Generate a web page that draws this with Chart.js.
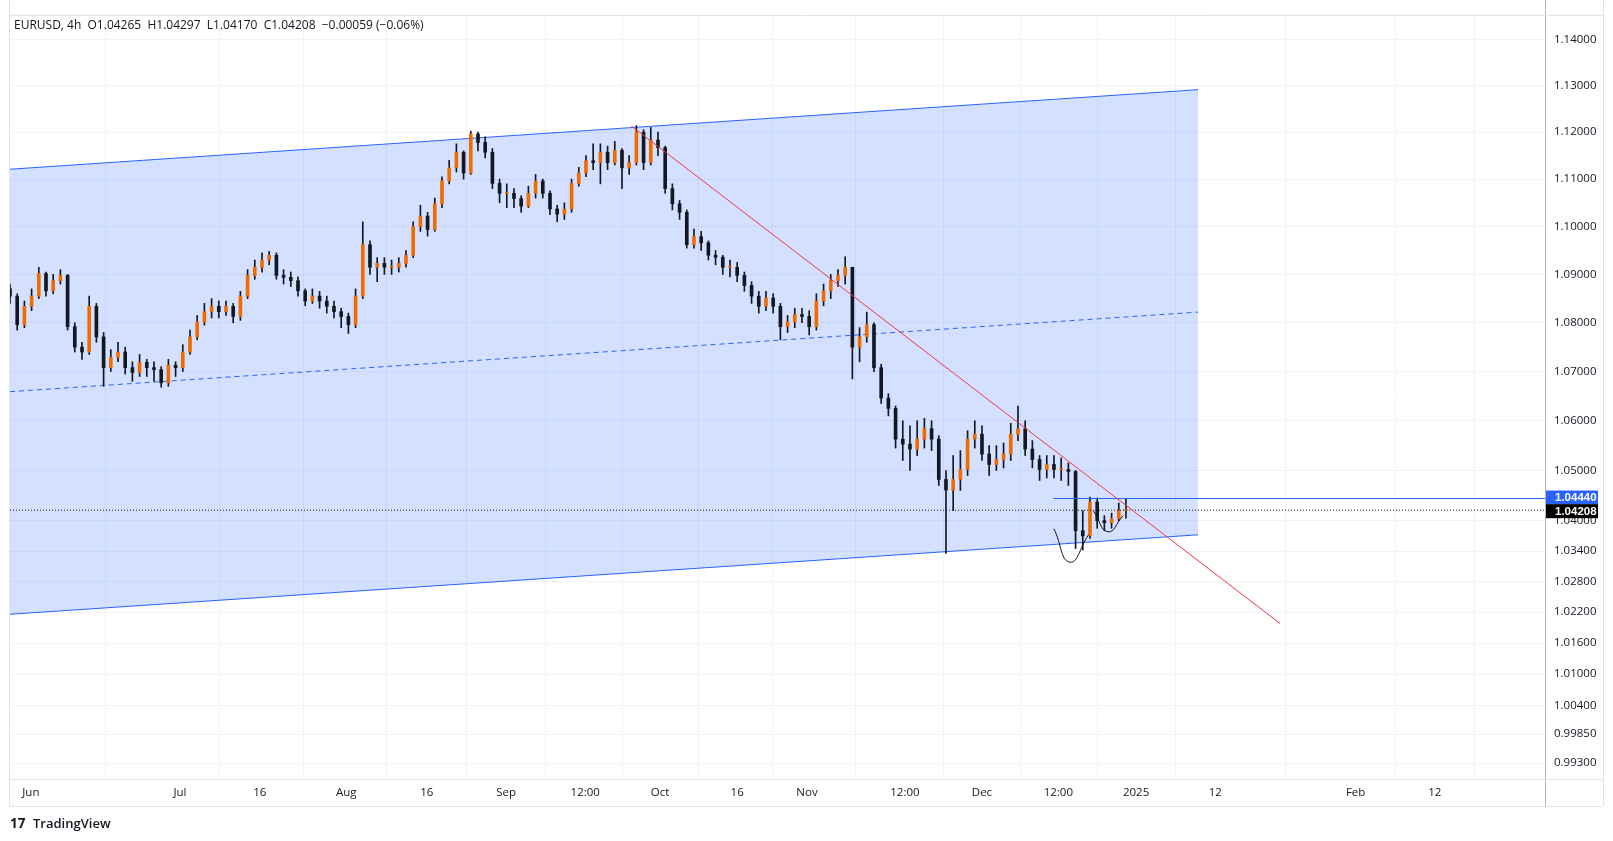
<!DOCTYPE html>
<html><head><meta charset="utf-8">
<script src="https://cdn.jsdelivr.net/npm/chart.js@4"></script>
<style>html,body{margin:0;padding:0;background:#fff;overflow:hidden;width:1613px;height:841px}#wrap{width:1613px;height:841px}canvas{display:block}</style>
</head><body><div id="wrap"><canvas id="c" width="1613" height="841" style="width:1613px;height:841px"></canvas></div>
<script>
// Daily candles (index 0 = first visible bar)
const closes = [1.0855,1.0796,1.0834,1.0855,1.0902,1.0866,1.0887,1.0898,1.0792,1.0750,
1.0740,1.0834,1.0771,1.0708,1.0729,1.0740,1.0708,1.0698,1.0719,1.0708,
1.0704,1.0677,1.0713,1.0708,1.0740,1.0771,1.0802,1.0823,1.0834,1.0823,
1.0834,1.0813,1.0855,1.0898,1.0915,1.0930,1.0940,1.0898,1.0894,1.0887,
1.0866,1.0845,1.0855,1.0845,1.0834,1.0823,1.0813,1.0796,1.0855,1.0962,
1.0915,1.0923,1.0915,1.0915,1.0923,1.0940,1.1000,1.1022,1.0994,1.1048,
1.1096,1.1124,1.1157,1.1113,1.1196,1.1178,1.1157,1.1091,1.1070,1.1070,
1.1059,1.1043,1.1070,1.1096,1.1070,1.1037,1.1026,1.1037,1.1091,1.1113,
1.1139,1.1135,1.1157,1.1135,1.1161,1.1124,1.1135,1.1200,1.1135,1.1183,
1.1167,1.1080,1.1048,1.1030,1.0962,1.0979,1.0966,1.0940,1.0936,1.0915,
1.0915,1.0898,1.0877,1.0855,1.0834,1.0851,1.0834,1.0792,1.0802,1.0817,
1.0813,1.0792,1.0845,1.0866,1.0887,1.0898,1.0915,1.0750,1.0771,1.0796,
1.0708,1.0646,1.0625,1.0563,1.0553,1.0543,1.0563,1.0584,1.0563,1.0482,
1.0461,1.0482,1.0502,1.0563,1.0573,1.0533,1.0512,1.0522,1.0533,1.0573,
1.0584,1.0543,1.0522,1.0502,1.0512,1.0502,1.0502,1.0498,1.0380,1.0370,
1.0437,1.0400,1.0396,1.0404,1.0420,1.04208];
const firstOpen = 1.0870;
const highs = [1.0880,1.0860,1.0845,1.0870,1.0915,1.0905,1.0900,1.0910,1.0900,1.0800,
1.0760,1.0855,1.0840,1.0780,1.0745,1.0760,1.0750,1.0720,1.0735,1.0725,
1.0720,1.0710,1.0725,1.0720,1.0755,1.0785,1.0815,1.0840,1.0850,1.0845,
1.0845,1.0840,1.0865,1.0910,1.0930,1.0945,1.0948,1.0945,1.0910,1.0905,
1.0895,1.0870,1.0870,1.0865,1.0855,1.0845,1.0830,1.0820,1.0870,1.1010,
1.0970,1.0935,1.0935,1.0930,1.0935,1.0950,1.1010,1.1045,1.1030,1.1060,
1.1105,1.1140,1.1175,1.1160,1.1202,1.1200,1.1190,1.1165,1.1100,1.1090,
1.1080,1.1065,1.1085,1.1110,1.1100,1.1075,1.1045,1.1050,1.1100,1.1125,
1.1150,1.1175,1.1175,1.1170,1.1180,1.1165,1.1150,1.1214,1.1205,1.1210,
1.1200,1.1170,1.1090,1.1055,1.1035,1.0995,1.0990,1.0970,1.0950,1.0940,
1.0930,1.0925,1.0905,1.0885,1.0865,1.0865,1.0860,1.0840,1.0815,1.0830,
1.0830,1.0825,1.0860,1.0880,1.0900,1.0910,1.0937,1.0915,1.0790,1.0822,
1.0800,1.0715,1.0655,1.0630,1.0600,1.0590,1.0600,1.0605,1.0600,1.0570,
1.0500,1.0530,1.0540,1.0580,1.0600,1.0590,1.0550,1.0550,1.0555,1.0595,
1.0630,1.0600,1.0560,1.0530,1.0530,1.0530,1.0525,1.0515,1.0500,1.0420,
1.0447,1.0445,1.0410,1.0415,1.0435,1.0444];
const lows = [1.0840,1.0785,1.0790,1.0825,1.0850,1.0855,1.0860,1.0880,1.0785,1.0740,
1.0725,1.0735,1.0760,1.0670,1.0700,1.0720,1.0695,1.0680,1.0690,1.0690,
1.0680,1.0668,1.0670,1.0690,1.0700,1.0735,1.0765,1.0795,1.0810,1.0810,
1.0815,1.0800,1.0805,1.0850,1.0890,1.0905,1.0920,1.0890,1.0880,1.0875,
1.0855,1.0835,1.0840,1.0830,1.0820,1.0810,1.0790,1.0778,1.0790,1.0850,
1.0900,1.0885,1.0900,1.0900,1.0905,1.0915,1.0935,1.0990,1.0980,1.0990,
1.1040,1.1090,1.1115,1.1100,1.1110,1.1160,1.1145,1.1080,1.1050,1.1040,
1.1040,1.1030,1.1040,1.1060,1.1060,1.1025,1.1010,1.1015,1.1030,1.1085,
1.1105,1.1120,1.1090,1.1120,1.1130,1.1080,1.1110,1.1130,1.1120,1.1130,
1.1150,1.1070,1.1035,1.1015,1.0955,1.0955,1.0950,1.0930,1.0920,1.0900,
1.0895,1.0885,1.0865,1.0840,1.0820,1.0825,1.0820,1.0765,1.0780,1.0790,
1.0800,1.0775,1.0785,1.0835,1.0850,1.0875,1.0880,1.0685,1.0720,1.0760,
1.0700,1.0635,1.0610,1.0545,1.0520,1.0500,1.0530,1.0545,1.0540,1.0470,
1.0335,1.0420,1.0460,1.0490,1.0545,1.0520,1.0490,1.0500,1.0505,1.0520,
1.0560,1.0530,1.0505,1.0480,1.0485,1.0485,1.0480,1.0470,1.0345,1.0342,
1.0365,1.0385,1.0380,1.0385,1.0400,1.0405];
const opens = closes.map((c, i) => i === 0 ? firstOpen : closes[i - 1]);

const priceTicks = [1.14,1.13,1.12,1.11,1.10,1.09,1.08,1.07,1.06,1.05,1.04,1.034,1.028,1.022,1.016,1.010,1.004,0.9985,0.993];
const timeTickLabels = ['Jun','Jul','16','Aug','16','Sep','12:00','Oct','16','Nov','12:00','Dec','12:00','2025','12','Feb','12'];
const timeTickPos = [2.9,23.6,34.7,46.7,57.9,68.9,79.9,90.3,101,110.7,124.3,135,145.6,156.4,167.4,186.9,197.9];

// drawings (bar index, price)
const channelUpper = [{x:0,y:1.1121},{x:165,y:1.1291}];
const channelLower = [{x:0,y:1.0216},{x:165,y:1.0372}];
const channelMid = [{x:0,y:1.0659},{x:165,y:1.0822}];
const trendLine = [{x:86.3,y:1.1213},{x:176.4,y:1.0198}];
const resistance = [{x:144.9,y:1.0444},{x:213.2,y:1.0444}];
const lastClose = [{x:0,y:1.04208},{x:213.2,y:1.04208}];
const arcLeft = [{x:145,y:1.0384},{x:147.2,y:1.0318},{x:149.8,y:1.0372}];
const arcRight = [{x:150.5,y:1.0419},{x:152.5,y:1.0378},{x:154.6,y:1.0410}];

const UP = '#ef6c00', DN = '#131722';
const wick = closes.map((c,i)=>({x:i,y:[lows[i],highs[i]]}));
const body = closes.map((c,i)=>{let a=opens[i],b=c; if(Math.abs(a-b)<0.0002){b=a+0.0002;} return {x:i,y:[Math.min(a,b),Math.max(a,b)]};});
const bodyColors = closes.map((c,i)=> c>=opens[i]?UP:DN);

function ln(data,color,extra){return Object.assign({type:'line',data,borderColor:color,borderWidth:1,pointRadius:0,fill:false,tension:0},extra||{});}

const extras = {
  id:'extras',
  beforeDraw(ch){
    const c=ch.ctx; c.save(); c.fillStyle='#fff'; c.fillRect(0,0,ch.width,ch.height); c.restore();
  },
  afterDraw(ch){
    const c=ch.ctx, y=ch.scales.y, a=ch.chartArea;
    const R = a.right+58, B = a.bottom+27;
    c.save();
    c.strokeStyle='#b2b5be'; c.lineWidth=1;
    c.beginPath(); c.moveTo(a.right+0.5,0); c.lineTo(a.right+0.5,B); c.stroke();
    c.strokeStyle='#e0e3eb';
    c.beginPath(); c.moveTo(a.left,a.bottom+0.5); c.lineTo(R,a.bottom+0.5); c.stroke();
    c.beginPath(); c.moveTo(R+0.5,0); c.lineTo(R+0.5,B); c.stroke();
    c.beginPath(); c.moveTo(a.left,B+0.5); c.lineTo(R,B+0.5); c.stroke();
    c.beginPath(); c.moveTo(a.left-0.5,0); c.lineTo(a.left-0.5,B); c.stroke();
    c.beginPath(); c.moveTo(a.left,a.top-0.5); c.lineTo(R,a.top-0.5); c.stroke();
    const boxes=[[1.0444,'#2962ff','1.04440'],[1.04208,'#000000','1.04208']];
    c.font='bold 11.5px "Liberation Sans", Arial, sans-serif'; c.textBaseline='middle';
    boxes.forEach(([v,col,t])=>{const py=y.getPixelForValue(v);
      const yy = py + (v>1.043? -1:1);
      c.fillStyle=col; c.fillRect(a.right+1,yy-7,52,14); c.fillStyle='#fff'; c.fillText(t,a.right+10,yy+0.5);});
    c.fillStyle='#131722'; c.font='12px "Open Sans", "DejaVu Sans", sans-serif'; c.textBaseline='alphabetic';
    c.fillText('EURUSD, 4h  O1.04265  H1.04297  L1.04170  C1.04208  \u22120.00059 (\u22120.06%)',14,29);
    c.font='bold 13.5px "Open Sans", sans-serif'; c.fillText('17',10,828);
    c.font='600 13px "Open Sans", sans-serif'; c.fillText('TradingView',33,828);
    c.restore();
  }
};

new Chart(document.getElementById('c'),{
  type:'bar',
  data:{datasets:[
    ln(channelUpper,'#2962ff',{fill:{target:1},backgroundColor:'rgba(41,98,255,0.2)',order:10}),
    ln(channelLower,'#2962ff',{order:10}),
    ln(channelMid,'#2962ff',{borderDash:[5,4],order:9}),
    ln(lastClose,'#131722',{borderDash:[1,2],order:3}),
    {type:'bar',data:wick,backgroundColor:'#131722',barThickness:1,grouped:false,order:5},
    {type:'bar',data:body,backgroundColor:bodyColors,barThickness:3,grouped:false,order:4},
    ln(trendLine,'#f23645',{order:2}),
    ln(resistance,'#2962ff',{order:2}),
    ln(arcLeft,'#131722',{tension:0.5,order:2}),
    ln(arcRight,'#131722',{tension:0.5,order:2})
  ]},
  options:{
    responsive:false,animation:false,devicePixelRatio:1,
    layout:{padding:{left:10,top:10,right:10,bottom:35}},
    plugins:{legend:{display:false},tooltip:{enabled:false}},
    scales:{
      x:{type:'linear',min:0,max:213.2,offset:false,
        afterBuildTicks:s=>{s.ticks=timeTickPos.map(v=>({value:v}));},
        afterFit:s=>{s.height=27;},
        ticks:{autoSkip:false,maxRotation:0,color:'#131722',font:{size:11.5,family:'"Open Sans", sans-serif'},padding:7,
          callback:(v,i)=>timeTickLabels[i]},
        grid:{color:'#f0f3fa',drawTicks:false},border:{display:false}},
      y:{type:'logarithmic',position:'right',min:0.9928,max:1.1451,
        afterBuildTicks:s=>{s.ticks=priceTicks.map(v=>({value:v}));},
        afterFit:s=>{s.width=58;},
        ticks:{autoSkip:false,color:'#131722',font:{size:11.5,family:'"Open Sans", sans-serif'},padding:9,
          callback:v=>Number(v).toFixed(5)},
        grid:{color:'#f0f3fa',drawTicks:false},border:{display:false}}
    }
  },
  plugins:[extras]
});
</script></body></html>
